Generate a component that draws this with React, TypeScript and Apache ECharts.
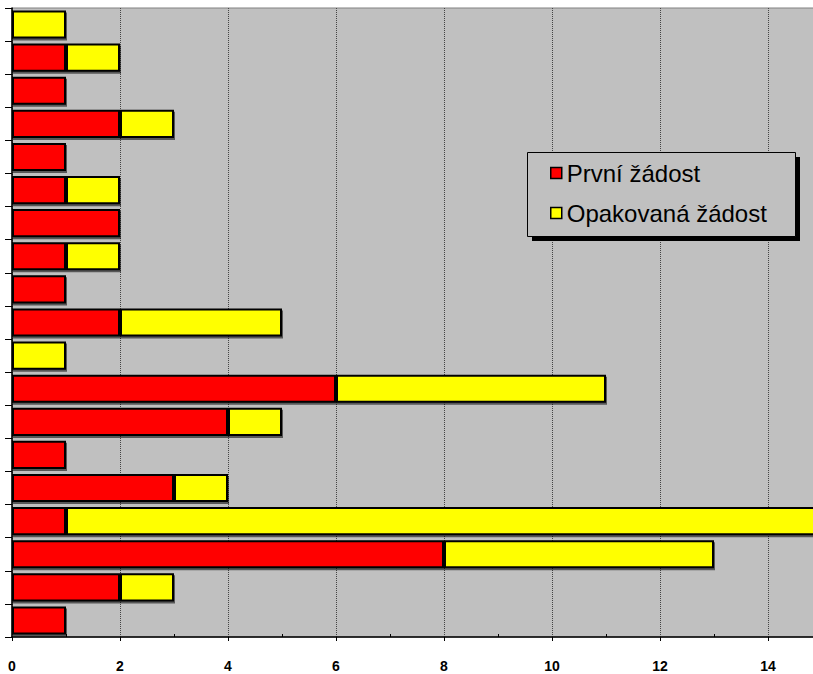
import React, { useEffect, useRef } from "react";
import * as echarts from "echarts";

const categories = ["1", "2", "3", "4", "5", "6", "7", "8", "9", "10", "11", "12", "13", "14", "15", "16", "17", "18", "19"];
const prvni = [0, 1, 1, 2, 1, 1, 2, 1, 1, 2, 0, 6, 4, 1, 3, 1, 8, 2, 1];
const opakovana = [1, 1, 0, 1, 0, 1, 0, 1, 0, 3, 1, 5, 1, 0, 1, 14, 5, 1, 0];
const seriesNames = ["První žádost", "Opakovaná žádost"];

const FONT = "'Liberation Sans', Arial, sans-serif";

export default function App() {
  const ref = useRef<HTMLDivElement>(null);
  useEffect(() => {
    if (!ref.current) return;
    const chart = echarts.init(ref.current, undefined, { renderer: "svg" });
    const barStyle = (color: string) => ({
      color,
      borderColor: "#000",
      borderWidth: 2,
      shadowColor: "rgba(0,0,0,0.55)",
      shadowBlur: 0,
      shadowOffsetX: 1,
      shadowOffsetY: 2,
    });
    chart.setOption({
      animation: false,
      backgroundColor: "#fff",
      textStyle: { fontFamily: FONT },
      grid: {
        left: 12,
        top: 8,
        right: -9,
        bottom: 37,
        outerBoundsMode: "none",
        containLabel: false,
        show: true,
        backgroundColor: "#C0C0C0",
        borderColor: "#808080",
        borderWidth: 1,
      },
      legend: {
        orient: "vertical",
        left: 550,
        top: 161,
        data: seriesNames,
        icon: "rect",
        padding: 0,
        itemWidth: 11,
        itemHeight: 11,
        itemGap: 16,
        itemTextGap: 5,
        itemStyle: { borderColor: "#000", borderWidth: 1.5, shadowBlur: 0, shadowOffsetX: 0, shadowOffsetY: 0 },
        textStyle: { fontFamily: FONT, fontSize: 24, color: "#000" },
        z: 6,
      },
      graphic: [
        {
          type: "rect",
          z: 3,
          shape: { x: 532, y: 157, width: 268, height: 84 },
          style: { fill: "#000" },
        },
        {
          type: "rect",
          z: 4,
          shape: { x: 527.5, y: 152.5, width: 268, height: 84 },
          style: { fill: "#C0C0C0", stroke: "#000", lineWidth: 1 },
        },
      ],
      xAxis: {
        type: "value",
        min: 0,
        max: 15,
        interval: 2,
        axisLine: { show: true, lineStyle: { color: "#000", width: 1.5 } },
        axisTick: { show: true, length: 4, lineStyle: { color: "#000" } },
        minorTick: { show: true, splitNumber: 2, length: -3, lineStyle: { color: "#000" } },
        splitLine: { show: true, lineStyle: { type: "dotted", color: "#444", width: 1 } },
        axisLabel: {
          fontFamily: FONT,
          fontSize: 14,
          fontWeight: "bold",
          color: "#000",
          margin: 22,
          showMaxLabel: false,
        },
      },
      yAxis: {
        type: "category",
        data: categories,
        inverse: true,
        axisLine: { show: true, onZero: false, lineStyle: { color: "#000", width: 1.5 } },
        axisTick: { show: true, length: 7, lineStyle: { color: "#000" } },
        axisLabel: { show: false },
        splitLine: { show: false },
      },
      series: [
        {
          name: seriesNames[0],
          type: "bar",
          stack: "total",
          data: prvni,
          barCategoryGap: "15%",
          itemStyle: barStyle("#FF0000"),
        },
        {
          name: seriesNames[1],
          type: "bar",
          stack: "total",
          data: opakovana,
          barCategoryGap: "15%",
          itemStyle: barStyle("#FFFF00"),
        },
      ],
    });
    return () => chart.dispose();
  }, []);
  return (
    <div
      ref={ref}
      style={{ position: "absolute", left: 0, top: 0, width: 813, height: 674 }}
    />
  );
}
